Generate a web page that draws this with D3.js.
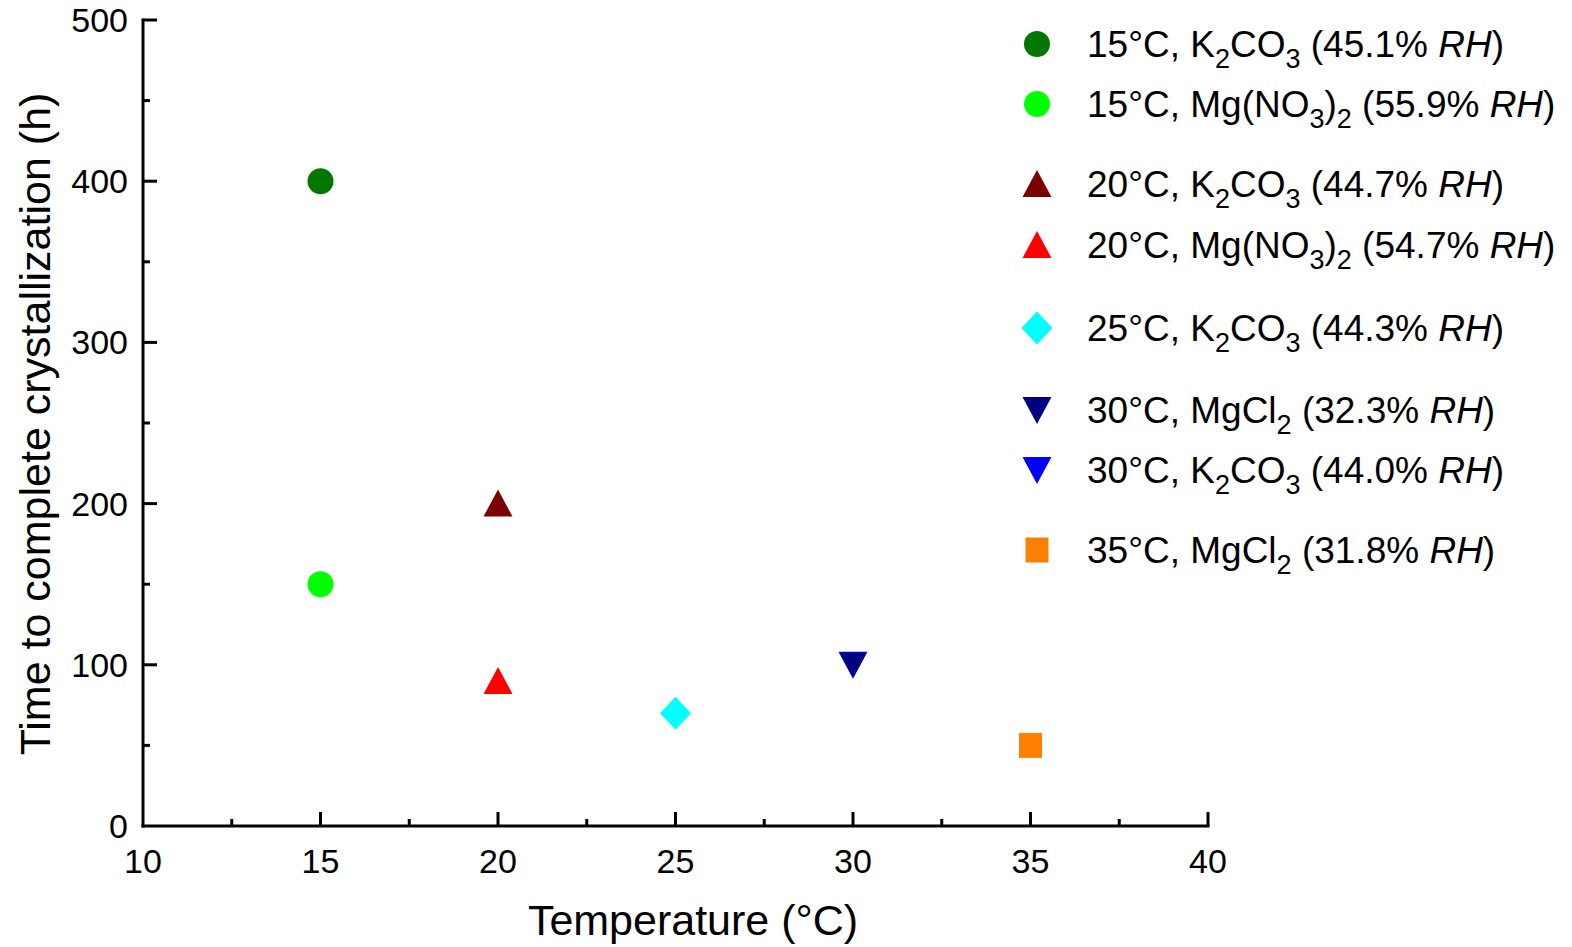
<!DOCTYPE html>
<html><head><meta charset="utf-8">
<script src="https://cdn.jsdelivr.net/npm/d3@7"></script>
<style>body{margin:0;background:#fff}text{font-family:"Liberation Sans",Arial,sans-serif}</style>
</head><body><svg id="c" width="1572" height="947"></svg>
<script>
// ---- data ----
const temps = [15, 15, 20, 20, 25, 30, 30, 35];
const hours = [400, 150, 200, 90, 70, 100, 100, 50];
const colors = ["#007800", "#00ff00", "#7b0000", "#ff0000", "#00ffff", "#000080", "#0000ff", "#ff8000"];
const shapes = ["circle", "circle", "triUp", "triUp", "diamond", "triDown", "triDown", "square"];
// draw order (blue 30°C K2CO3 under navy 30°C MgCl2)
const drawOrder = [0, 1, 2, 3, 4, 6, 5, 7];
const legendLabels = [
  [["15°C, K"], ["2","sub"], ["CO"], ["3","sub"], [" (45.1% "], ["RH","it"], [")"]],
  [["15°C, Mg(NO"], ["3","sub"], [")"], ["2","sub"], [" (55.9% "], ["RH","it"], [")"]],
  [["20°C, K"], ["2","sub"], ["CO"], ["3","sub"], [" (44.7% "], ["RH","it"], [")"]],
  [["20°C, Mg(NO"], ["3","sub"], [")"], ["2","sub"], [" (54.7% "], ["RH","it"], [")"]],
  [["25°C, K"], ["2","sub"], ["CO"], ["3","sub"], [" (44.3% "], ["RH","it"], [")"]],
  [["30°C, MgCl"], ["2","sub"], [" (32.3% "], ["RH","it"], [")"]],
  [["30°C, K"], ["2","sub"], ["CO"], ["3","sub"], [" (44.0% "], ["RH","it"], [")"]],
  [["35°C, MgCl"], ["2","sub"], [" (31.8% "], ["RH","it"], [")"]]
];
const legendY = [44, 104, 184, 245, 328, 410, 470, 550];
const xTicks = [10, 15, 20, 25, 30, 35, 40];
const yTicks = [0, 100, 200, 300, 400, 500];
const xTitle = "Temperature (°C)";
const yTitle = "Time to complete crystallization (h)";

// ---- chart ----
const svg = d3.select("#c");
const x = d3.scaleLinear().domain([10, 40]).range([143, 1208]);
const y = d3.scaleLinear().domain([0, 500]).range([826, 20]);

function shapePath(s, k) {
  const p = d3.path();
  if (s === "circle") { p.arc(0, 0, 13*k, 0, 2*Math.PI); }
  else if (s === "triUp") { p.moveTo(0, -14*k); p.lineTo(14.5*k, 13*k); p.lineTo(-14.5*k, 13*k); p.closePath(); }
  else if (s === "triDown") { p.moveTo(0, 14*k); p.lineTo(14.5*k, -13*k); p.lineTo(-14.5*k, -13*k); p.closePath(); }
  else if (s === "diamond") { p.moveTo(0, -16.5*k); p.lineTo(15.5*k, 0); p.lineTo(0, 16.5*k); p.lineTo(-15.5*k, 0); p.closePath(); }
  else if (s === "square") { p.rect(-11.5*k, -12.5*k, 23*k, 25*k); }
  return p.toString();
}

// axes
const ax = svg.append("g").attr("stroke", "#000").attr("stroke-width", 3).attr("fill", "none");
ax.append("line").attr("x1", x(10)).attr("x2", x(40)).attr("y1", y(0)).attr("y2", y(0)).attr("stroke-linecap","square");
ax.append("line").attr("x1", x(10)).attr("x2", x(10)).attr("y1", y(0)).attr("y2", y(500)).attr("stroke-linecap","square");
d3.range(10, 40.01, 2.5).forEach(v => {
  const major = xTicks.includes(v);
  if (v === 10) return;
  ax.append("line").attr("x1", x(v)).attr("x2", x(v)).attr("y1", y(0)).attr("y2", y(0) - (major ? 14 : 7));
});
d3.range(0, 500.01, 50).forEach(v => {
  const major = yTicks.includes(v);
  if (v === 0) return;
  ax.append("line").attr("x1", x(10)).attr("x2", x(10) + (major ? 14 : 7)).attr("y1", y(v)).attr("y2", y(v));
});
svg.append("g").selectAll("text").data(xTicks).join("text")
  .attr("x", d => x(d)).attr("y", 873).attr("text-anchor", "middle").attr("font-size", 34).text(d => d);
svg.append("g").selectAll("text").data(yTicks).join("text")
  .attr("x", 128).attr("y", d => y(d) + 12).attr("text-anchor", "end").attr("font-size", 34).text(d => d);
svg.append("text").attr("x", 693).attr("y", 935).attr("text-anchor", "middle").attr("font-size", 43).text(xTitle);
svg.append("text").attr("transform", "translate(50,424) rotate(-90)").attr("text-anchor", "middle").attr("font-size", 43).text(yTitle);

// points
svg.append("g").selectAll("path").data(drawOrder).join("path")
  .attr("transform", i => `translate(${x(temps[i])},${y(hours[i])})`)
  .attr("d", i => shapePath(shapes[i], i === 5 ? 0.93 : 1))
  .attr("fill", i => colors[i]);

// legend
const lg = svg.append("g");
legendLabels.forEach((parts, i) => {
  const cy = legendY[i];
  lg.append("path").attr("transform", `translate(1037,${cy})`).attr("d", shapePath(shapes[i], 1)).attr("fill", colors[i]);
  const t = lg.append("text").attr("x", 1087).attr("y", cy + 13).attr("font-size", 37);
  let shifted = false;
  parts.forEach(([s, kind]) => {
    const ts = t.append("tspan").text(s);
    if (kind === "sub") { ts.attr("font-size", 27).attr("dy", shifted ? 0 : 11); shifted = true; }
    else {
      if (shifted) { ts.attr("dy", -11); shifted = false; }
      if (kind === "it") ts.attr("font-style", "italic");
    }
  });
});
</script></body></html>
